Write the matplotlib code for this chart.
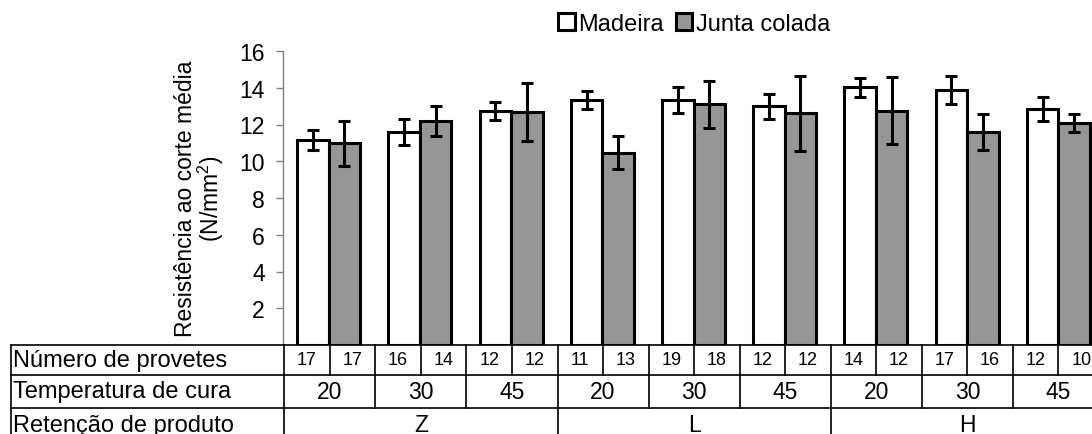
import numpy as np
import matplotlib
matplotlib.use("Agg")
import matplotlib.pyplot as plt
from matplotlib.patches import Patch

plt.rcParams['font.family'] = ['Liberation Sans', 'DejaVu Sans']
plt.rcParams['mathtext.fontset'] = 'custom'
plt.rcParams['mathtext.rm'] = 'Liberation Sans'
plt.rcParams['mathtext.default'] = 'regular'

# mean shear strength (N/mm2) and standard deviation per condition
madeira = [11.15, 11.58, 12.75, 13.33, 13.35, 12.98, 14.02, 13.89, 12.84]
madeira_sd = [0.55, 0.70, 0.50, 0.50, 0.70, 0.66, 0.52, 0.75, 0.63]
junta = [10.98, 12.20, 12.68, 10.46, 13.09, 12.60, 12.76, 11.59, 12.07]
junta_sd = [1.23, 0.82, 1.60, 0.89, 1.30, 2.04, 1.83, 1.00, 0.48]

n_provetes = [17, 17, 16, 14, 12, 12, 11, 13, 19, 18, 12, 12, 14, 12, 17, 16, 12, 10]
temperaturas = [20, 30, 45, 20, 30, 45, 20, 30, 45]
retencao = ["Z", "L", "H"]
row_labels = ["Número de provetes", "Temperatura de cura", "Retenção de produto"]

W, H = 1092, 435
fig = plt.figure(figsize=(W / 100, H / 100), dpi=100)

# bar area; right edge runs past the figure border
x0, x1 = 283, 1104
y_top, y_zero = 52, 346
ax = fig.add_axes([x0 / W, (H - y_zero) / H, (x1 - x0) / W, (y_zero - y_top) / H])

x = np.arange(len(madeira))
w = 0.345
ax.bar(x - w / 2, madeira, w, color='white', edgecolor='black', linewidth=2.2, zorder=2)
ax.bar(x + w / 2, junta, w, color='#969696', edgecolor='black', linewidth=2.2, zorder=2)
ax.errorbar(x - w / 2, madeira, yerr=madeira_sd, fmt='none', ecolor='black',
            elinewidth=2.2, capsize=4.5, capthick=2.2, zorder=3)
ax.errorbar(x + w / 2, junta, yerr=junta_sd, fmt='none', ecolor='black',
            elinewidth=2.2, capsize=4.5, capthick=2.2, zorder=3)

ax.set_xlim(-0.5, 8.5)
ax.set_ylim(0, 16)
ax.set_yticks(np.arange(2, 17, 2))
ax.set_xticks([])
ax.tick_params(axis='y', direction='out', length=5, width=1, color='#808080',
               pad=8, labelsize=16.5)
for s in ['top', 'right', 'bottom']:
    ax.spines[s].set_visible(False)
ax.spines['left'].set_color('#808080')
ax.spines['left'].set_linewidth(1)

fig.text(200 / W, 1 - 199 / H, "Resistência ao corte média\n(N/mm$^2$)",
         rotation=90, ha='center', va='center', multialignment='center',
         fontsize=16.5, linespacing=0.95)

handles = [Patch(facecolor='white', edgecolor='black', linewidth=2.2),
           Patch(facecolor='#969696', edgecolor='black', linewidth=2.2)]
fig.legend(handles, ["Madeira", "Junta colada"], loc='center left',
           bbox_to_anchor=(558 / W, 1 - 25 / H), ncol=2, frameon=False,
           fontsize=17, handlelength=0.7, handleheight=0.7,
           handletextpad=0.15, columnspacing=0.5, borderpad=0, borderaxespad=0)

# table under the bars, same x units as the bar axes
t_left, t_bot = 11, 443
tab = fig.add_axes([t_left / W, (H - t_bot) / H, (x1 - t_left) / W, (t_bot - y_zero) / H])
tab.set_xlim(-3.5, 8.5)
edges = [0, 30, 63, 97]
tab.set_ylim(edges[-1], 0)
tab.axis('off')

lw = 1.2
for e in edges:
    tab.plot([-3.5, 8.5], [e, e], color='black', lw=lw, clip_on=False)
tab.plot([-3.5, -3.5], [0, edges[-1]], color='black', lw=lw, clip_on=False)
tab.plot([8.5, 8.5], [0, edges[-1]], color='black', lw=lw, clip_on=False)
for k in range(len(n_provetes) + 1):
    xv = -0.5 + 0.5 * k
    tab.plot([xv, xv], [edges[0], edges[1]], color='black', lw=lw, clip_on=False)
for k in range(len(temperaturas) + 1):
    xv = -0.5 + k
    tab.plot([xv, xv], [edges[1], edges[2]], color='black', lw=lw, clip_on=False)
for k in range(len(retencao) + 1):
    xv = -0.5 + 3 * k
    tab.plot([xv, xv], [edges[2], edges[3]], color='black', lw=lw, clip_on=False)

for i, lab in enumerate(row_labels):
    tab.text(-3.48, (edges[i] + edges[i + 1]) / 2, lab, ha='left', va='center',
             fontsize=17)

yc = (edges[0] + edges[1]) / 2
for k, n in enumerate(n_provetes):
    tab.text(-0.25 + 0.5 * k, yc, str(n), ha='center', va='center', fontsize=13)
yc = (edges[1] + edges[2]) / 2
for k, t in enumerate(temperaturas):
    tab.text(k, yc, str(t), ha='center', va='center', fontsize=16.5)
yc = (edges[2] + edges[3]) / 2
for k, r in enumerate(retencao):
    tab.text(1 + 3 * k, yc, r, ha='center', va='center', fontsize=16.5)

fig.savefig("out.png", dpi=100)
